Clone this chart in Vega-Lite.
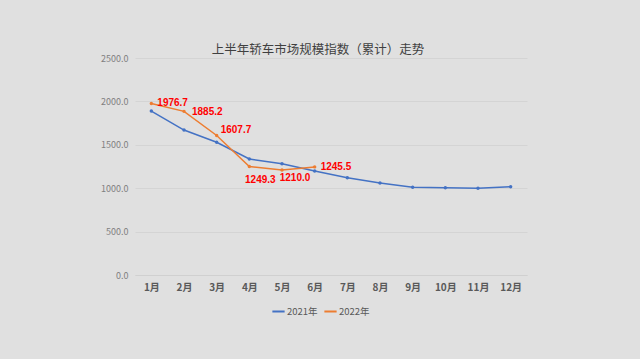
{
  "$schema": "https://vega.github.io/schema/vega-lite/v6.json",
  "width": 392,
  "height": 217,
  "autosize": {"type": "none"},
  "padding": {"left": 135, "top": 58, "right": 113, "bottom": 84},
  "background": "#e0e0e0",
  "title": {"text": "上半年轿车市场规模指数（累计）走势", "font": "Noto Sans CJK SC", "fontSize": 12.5, "fontWeight": "normal", "color": "#404040", "anchor": "middle", "frame": "group", "dx": -13, "offset": -2},
  "config": {"view": {"stroke": null}, "font": "Noto Sans CJK SC"},
  "data": {"values": [
    {"month": "1月", "series": "2021年", "value": 1889},
    {"month": "2月", "series": "2021年", "value": 1670},
    {"month": "3月", "series": "2021年", "value": 1529},
    {"month": "4月", "series": "2021年", "value": 1336},
    {"month": "5月", "series": "2021年", "value": 1282},
    {"month": "6月", "series": "2021年", "value": 1198},
    {"month": "7月", "series": "2021年", "value": 1121},
    {"month": "8月", "series": "2021年", "value": 1060},
    {"month": "9月", "series": "2021年", "value": 1010},
    {"month": "10月", "series": "2021年", "value": 1006},
    {"month": "11月", "series": "2021年", "value": 999},
    {"month": "12月", "series": "2021年", "value": 1017},
    {"month": "1月", "series": "2022年", "value": 1976.7},
    {"month": "2月", "series": "2022年", "value": 1885.2},
    {"month": "3月", "series": "2022年", "value": 1607.7},
    {"month": "4月", "series": "2022年", "value": 1249.3},
    {"month": "5月", "series": "2022年", "value": 1210.0},
    {"month": "6月", "series": "2022年", "value": 1245.5}
  ]},
  "encoding": {
    "x": {"field": "month", "type": "ordinal", "sort": null,
      "scale": {"type": "point", "padding": 0.5},
      "axis": {"title": null, "labelAngle": 0, "domain": true, "domainColor": "#d0d0d0", "ticks": false, "labelPadding": 7, "labelFontSize": 10, "labelFontWeight": "bold", "labelColor": "#595959", "grid": false}},
    "y": {"field": "value", "type": "quantitative",
      "scale": {"domain": [0, 2500]},
      "axis": {"title": null, "values": [0, 500, 1000, 1500, 2000, 2500], "format": ".1f", "domain": false, "ticks": false, "labelPadding": 7, "labelFontSize": 9, "labelColor": "#7f7f7f", "gridColor": "#d4d4d4", "gridWidth": 1}}
  },
  "layer": [
    {"mark": {"type": "line", "strokeWidth": 1.5},
     "encoding": {"color": {"field": "series", "type": "nominal",
       "scale": {"domain": ["2021年", "2022年"], "range": ["#4472C4", "#ED7D31"]},
       "legend": {"title": null, "orient": "none", "legendX": 136, "legendY": 246, "direction": "horizontal", "symbolType": "stroke", "symbolSize": 150, "symbolStrokeWidth": 2, "labelFontSize": 9.5, "labelColor": "#595959", "columnPadding": 2, "labelOffset": 1}}}},
    {"mark": {"type": "point", "filled": true, "size": 12, "opacity": 1},
     "encoding": {"color": {"field": "series", "type": "nominal", "legend": null}}},
    {"transform": [{"filter": "datum.series === '2022年' && (datum.month === '1月' || datum.month === '6月')"}],
     "mark": {"type": "text", "font": "Liberation Sans", "align": "left", "dx": 6, "dy": 0, "fontSize": 10, "fontWeight": "bold", "color": "#FF0000"},
     "encoding": {"text": {"field": "value", "type": "quantitative", "format": ".1f"}}},
    {"transform": [{"filter": "datum.series === '2022年' && datum.month === '2月'"}],
     "mark": {"type": "text", "font": "Liberation Sans", "align": "left", "dx": 8, "dy": 1, "fontSize": 10, "fontWeight": "bold", "color": "#FF0000"},
     "encoding": {"text": {"field": "value", "type": "quantitative", "format": ".1f"}}},
    {"transform": [{"filter": "datum.series === '2022年' && datum.month === '3月'"}],
     "mark": {"type": "text", "font": "Liberation Sans", "align": "left", "dx": 4, "dy": -5, "fontSize": 10, "fontWeight": "bold", "color": "#FF0000"},
     "encoding": {"text": {"field": "value", "type": "quantitative", "format": ".1f"}}},
    {"transform": [{"filter": "datum.series === '2022年' && datum.month === '4月'"}],
     "mark": {"type": "text", "font": "Liberation Sans", "align": "center", "dx": 11, "dy": 13, "fontSize": 10, "fontWeight": "bold", "color": "#FF0000"},
     "encoding": {"text": {"field": "value", "type": "quantitative", "format": ".1f"}}},
    {"transform": [{"filter": "datum.series === '2022年' && datum.month === '5月'"}],
     "mark": {"type": "text", "font": "Liberation Sans", "align": "center", "dx": 13, "dy": 8, "fontSize": 10, "fontWeight": "bold", "color": "#FF0000"},
     "encoding": {"text": {"field": "value", "type": "quantitative", "format": ".1f"}}}
  ]
}
